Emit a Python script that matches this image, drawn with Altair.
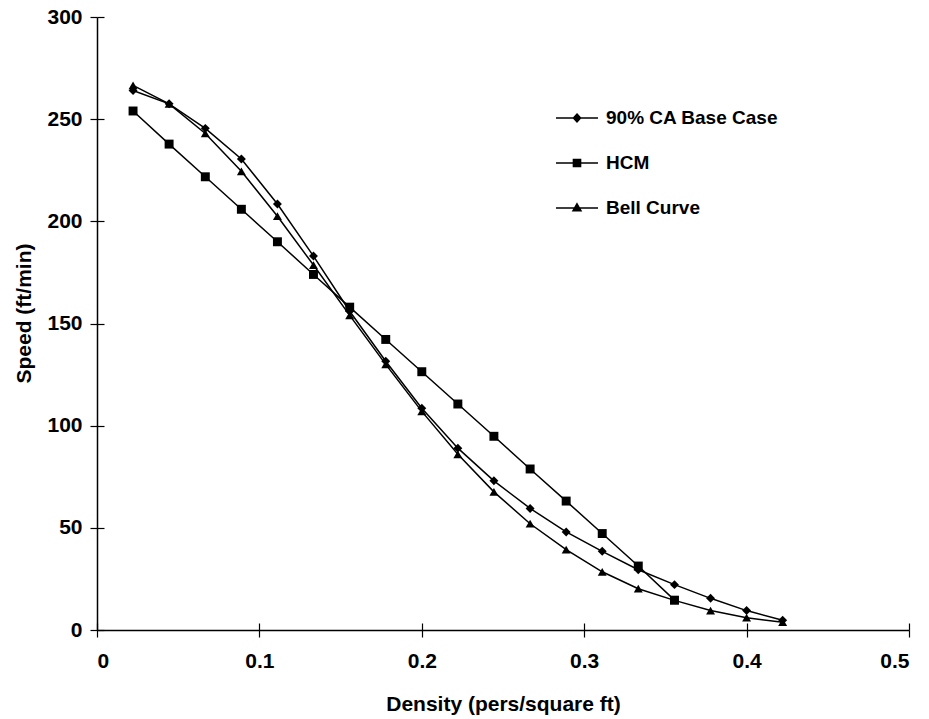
import altair as alt
import pandas as pd

density = [0.0222, 0.0444, 0.0667, 0.0889, 0.1111, 0.1333, 0.1556, 0.1778, 0.2,
           0.2222, 0.2444, 0.2667, 0.2889, 0.3111, 0.3333, 0.3556, 0.3778, 0.4, 0.4222]
ca_base = [264, 257.5, 245.5, 230.5, 208.5, 183, 156, 131.5, 108.5,
           89, 73, 59.5, 48, 38.5, 29.5, 22.2, 15.5, 9.5, 4.8]
hcm = [254, 237.8, 221.8, 205.9, 190, 174, 158, 142.2, 126.4,
       110.6, 94.8, 78.8, 63.1, 47.2, 31.3, 14.6]
bell = [266.5, 257.5, 243, 224.5, 202.5, 178.6, 154, 130, 107,
        86, 67.6, 52, 39.3, 28.5, 20.2, 14.5, 9.5, 6.0, 3.8]

names = ["90% CA Base Case", "HCM", "Bell Curve"]
x_ticks = [0, 0.1, 0.2, 0.3, 0.4, 0.5]
y_ticks = [0, 50, 100, 150, 200, 250, 300]

rows = []
for name, vals in zip(names, [ca_base, hcm, bell]):
    for d, v in zip(density, vals):
        rows.append({"density": d, "speed": v, "series": name})
df = pd.DataFrame(rows)

FONT = "Liberation Sans"
xs = alt.Scale(domain=[0, 0.5], nice=False)
ys = alt.Scale(domain=[0, 300], nice=False)

base = alt.Chart(df)

lines = base.mark_line(color="black", strokeWidth=1.5).encode(
    x=alt.X("density:Q", scale=xs, axis=alt.Axis(
        orient="bottom", title="Density (pers/square ft)", values=x_ticks,
        format="~g", tickSize=7, labelPadding=13, titlePadding=22, grid=False)),
    y=alt.Y("speed:Q", scale=ys, axis=alt.Axis(
        orient="left", title="Speed (ft/min)", values=y_ticks,
        tickSize=7, labelPadding=8, titlePadding=12, grid=False, titleY=296)),
    detail="series:N",
    order="density:Q",
)

points = base.mark_point(filled=True, color="black", opacity=1, size=80).encode(
    x=alt.X("density:Q", scale=xs, axis=None),
    y=alt.Y("speed:Q", scale=ys, axis=None),
    shape=alt.Shape("series:N", scale=alt.Scale(domain=names, range=["diamond", "square", "triangle-up"]), legend=None),
)

# legend symbols: a line segment with a small marker (nested outlines so it reads as filled)
paths = [
    "M-1,0H1M0,-0.19L0.17,0L0,0.19L-0.17,0ZM0,-0.12L0.1,0L0,0.12L-0.1,0ZM0,-0.05L0.04,0L0,0.05L-0.04,0Z",
    "M-1,0H1M-0.17,-0.17H0.17V0.17H-0.17ZM-0.1,-0.1H0.1V0.1H-0.1ZM-0.04,-0.04H0.04V0.04H-0.04Z",
    "M-1,0H1M0,-0.2L0.19,0.13L-0.19,0.13ZM0,-0.1L0.1,0.07L-0.1,0.07ZM0,-0.03L0.03,0.03L-0.03,0.03Z",
]

legend_layer = base.transform_filter(alt.datum.density < 0).mark_point(
    filled=False, color="black", strokeWidth=1.5, opacity=1
).encode(
    x=alt.X("density:Q", scale=xs, axis=alt.Axis(
        orient="bottom", values=x_ticks, offset=-7, tickSize=7,
        labels=False, domain=False, title=None, grid=False)),
    y=alt.Y("speed:Q", scale=ys, axis=alt.Axis(
        orient="left", values=y_ticks, offset=-7, tickSize=7,
        labels=False, domain=False, title=None, grid=False)),
    shape=alt.Shape("series:N", scale=alt.Scale(domain=names, range=paths), legend=alt.Legend(
        orient="none", legendX=458, legendY=79, title=None, symbolSize=1764,
        symbolStrokeColor="black", symbolStrokeWidth=1.5, symbolOpacity=1,
        labelFont=FONT, labelFontSize=19, labelFontWeight="bold",
        labelColor="black", rowPadding=13, labelOffset=7, labelLimit=400)),
)

chart = alt.layer(lines, points, legend_layer).resolve_scale(
    shape="independent"
).resolve_axis(
    x="independent", y="independent"
).properties(
    width=812, height=613,
    autosize=alt.AutoSizeParams(type="none"),
    padding={"left": 97, "top": 17, "right": 20, "bottom": 89},
    background="white",
).configure_view(stroke=None).configure_axis(
    domainColor="black", domainWidth=1.5, tickColor="black", tickWidth=1.2,
    grid=False, labelFont=FONT, labelFontSize=21, labelFontWeight="bold", labelColor="black",
    titleFont=FONT, titleFontSize=21, titleFontWeight="bold", titleColor="black",
)

chart.save("out.html", embed_options={"renderer": "svg", "actions": False})
